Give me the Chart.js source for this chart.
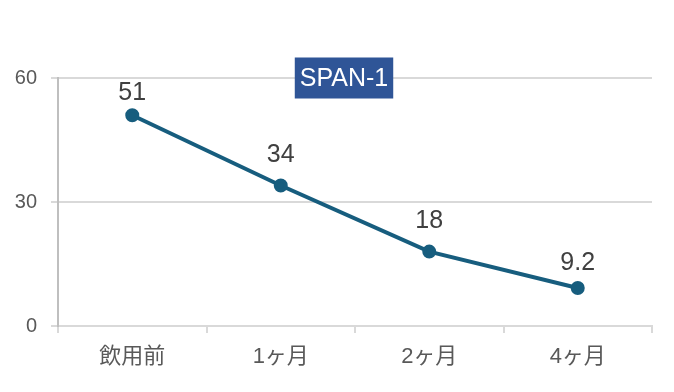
<!DOCTYPE html>
<html>
  <head>
    <meta charset="utf-8" />
    <title>SPAN-1</title>
    <style>
      html, body { margin: 0; padding: 0; background: #fff; }
      #wrap { width: 674px; height: 392px; }
    </style>
  </head>
  <body>
    <div id="wrap"><canvas id="spanChart" width="674" height="392"></canvas></div>

    <script src="https://cdn.jsdelivr.net/npm/chart.js"></script>
    <script>
      // data
      const categories = ["飲用前", "1ヶ月", "2ヶ月", "4ヶ月"];
      const spanValues = [51, 34, 18, 9.2];
      const yTicks = [0, 30, 60];
      const chartTitle = "SPAN-1";

      // how far each value label sits above its point (px)
      const labelLift = [15, 23, 24, 18];

      const fontFam = "'Liberation Sans', Arial, 'Noto Sans CJK JP', sans-serif";

      // value labels above each point
      const pointLabels = {
        id: "pointLabels",
        afterDatasetsDraw(chart) {
          const ctx = chart.ctx;
          const meta = chart.getDatasetMeta(0);
          ctx.save();
          ctx.font = "25px " + fontFam;
          ctx.fillStyle = "#404040";
          ctx.textAlign = "center";
          ctx.textBaseline = "alphabetic";
          meta.data.forEach((pt, i) => {
            ctx.fillText(String(spanValues[i]), pt.x, pt.y - labelLift[i]);
          });
          ctx.restore();
        },
      };

      // title in a filled box sitting on the top gridline
      const boxTitle = {
        id: "boxTitle",
        afterDraw(chart) {
          const ctx = chart.ctx;
          ctx.save();
          ctx.font = "25px " + fontFam;
          const w = ctx.measureText(chartTitle).width + 10;
          const cx = 344, cy = 78;
          ctx.fillStyle = "#2f5597";
          ctx.fillRect(cx - w / 2, cy - 20.5, w, 41);
          ctx.fillStyle = "#ffffff";
          ctx.textAlign = "center";
          ctx.textBaseline = "middle";
          ctx.fillText(chartTitle, cx, cy + 1);
          ctx.restore();
        },
      };

      new Chart(document.getElementById("spanChart"), {
        type: "line",
        data: {
          labels: categories,
          datasets: [
            {
              data: spanValues,
              borderColor: "#175d7e",
              backgroundColor: "#175d7e",
              borderWidth: 4,
              pointRadius: 5,
              pointHoverRadius: 5,
              tension: 0,
            },
          ],
        },
        options: {
          responsive: false,
          animation: false,
          layout: { padding: { top: 78, right: 22, left: 0, bottom: 0 } },
          plugins: { legend: { display: false }, tooltip: { enabled: false } },
          scales: {
            x: {
              offset: true,
              grid: {
                offset: true,
                drawOnChartArea: false,
                drawTicks: true,
                tickLength: 7,
                color: "#d9d9d9",
                lineWidth: 2,
              },
              border: { color: "#d9d9d9", width: 2 },
              ticks: {
                color: "#595959",
                font: { size: 22, family: fontFam },
                padding: 11,
              },
              afterFit(scale) { scale.height = 66; },
            },
            y: {
              min: 0,
              max: 60,
              afterBuildTicks(scale) {
                scale.ticks = yTicks.map((v) => ({ value: v }));
              },
              grid: {
                color: "#d9d9d9",
                lineWidth: 2,
                tickLength: 7,
              },
              border: { color: "#bfbfbf", width: 2 },
              ticks: {
                color: "#595959",
                font: { size: 20, family: fontFam },
                padding: 14,
              },
              afterFit(scale) { scale.width = 58; },
            },
          },
        },
        plugins: [pointLabels, boxTitle],
      });
    </script>
  </body>
</html>
